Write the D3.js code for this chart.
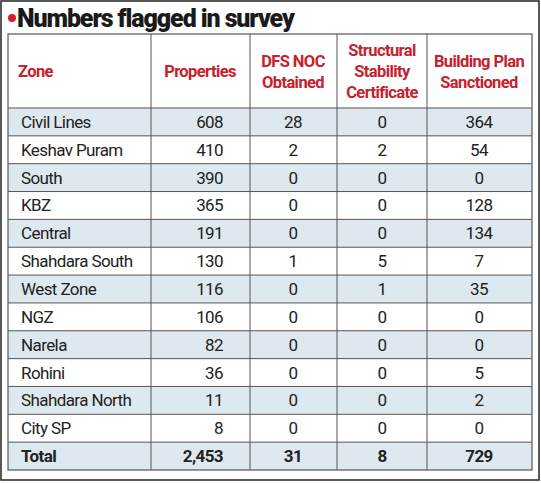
<!DOCTYPE html><html><head><meta charset="utf-8"><script src="https://cdn.jsdelivr.net/npm/d3@7"></script>
<style>body{margin:0;background:#fff}</style></head><body><svg id="c" width="541" height="483"></svg>
<script>
const title="Numbers flagged in survey";
const headers=[["Zone"],["Properties"],["DFS NOC","Obtained"],["Structural","Stability","Certificate"],["Building Plan","Sanctioned"]];
const zones=["Civil Lines","Keshav Puram","South","KBZ","Central","Shahdara South","West Zone","NGZ","Narela","Rohini","Shahdara North","City SP","Total"];
const properties=["608","410","390","365","191","130","116","106","82","36","11","8","2,453"];
const dfsNoc=["28","2","0","0","0","1","0","0","0","0","0","0","31"];
const structural=["0","2","0","0","0","5","1","0","0","0","0","0","8"];
const buildingPlan=["364","54","0","128","134","7","35","0","0","5","2","0","729"];

const svg=d3.select("#c");
const colEdges=[8,151,250,337,427,532];
const y=d3.scaleBand().domain(zones).range([108,470]);
svg.append("rect").attr("x",1).attr("y",1).attr("width",538).attr("height",479).attr("fill","none").attr("stroke","#222").attr("stroke-width",1.5);
svg.append("circle").attr("cx",12).attr("cy",18).attr("r",4).attr("fill","#d0202a");
svg.append("text").attr("x",17).attr("y",27).text(title).attr("font-family","Roboto").attr("font-weight",900).attr("font-size",25).attr("letter-spacing",-1.1).attr("fill","#1a1a1a");
svg.selectAll(".rf").data(zones).join("rect").attr("x",8).attr("width",524).attr("y",d=>y(d)).attr("height",y.bandwidth()).attr("fill",(d,i)=>i%2===0?"#dde9ef":"#fff");
const hx=[18,200,293,382,479];
headers.forEach((h,i)=>{
  const n=h.length, lh=21, cy=71;
  h.forEach((t,j)=>svg.append("text").attr("x",hx[i]).attr("y",cy+(j-(n-1)/2)*lh+6).attr("text-anchor",i===0?"start":"middle")
    .text(t).attr("font-family","Roboto").attr("font-weight",700).attr("font-size",16.5).attr("letter-spacing",-0.6).attr("fill","#c8202d"));
});
const cols=[properties,dfsNoc,structural,buildingPlan];
zones.forEach((z,r)=>{
  const bold=r===zones.length-1;
  const yy=y(z)+y.bandwidth()/2+6;
  const st=(s)=>s.attr("font-family","Roboto").attr("font-size",17).attr("letter-spacing",-0.6).attr("font-weight",bold?700:400).attr("fill","#222");
  st(svg.append("text").attr("x",21).attr("y",yy).text(z));
  st(svg.append("text").attr("x",223).attr("y",yy).attr("text-anchor","end").text(cols[0][r]));
  [1,2,3].forEach(c=>st(svg.append("text").attr("x",hx[c+1]).attr("y",yy).attr("text-anchor","middle").text(cols[c][r])));
});
const g="#555";
y.domain().forEach(d=>svg.append("line").attr("x1",8).attr("x2",532).attr("y1",y(d)).attr("y2",y(d)).attr("stroke",g).attr("stroke-width",1));
svg.append("rect").attr("x",8).attr("y",34).attr("width",524).attr("height",436).attr("fill","none").attr("stroke",g).attr("stroke-width",1.2);
colEdges.slice(1,5).forEach(cx=>svg.append("line").attr("x1",cx).attr("x2",cx).attr("y1",34).attr("y2",470).attr("stroke",g));
</script></body></html>
